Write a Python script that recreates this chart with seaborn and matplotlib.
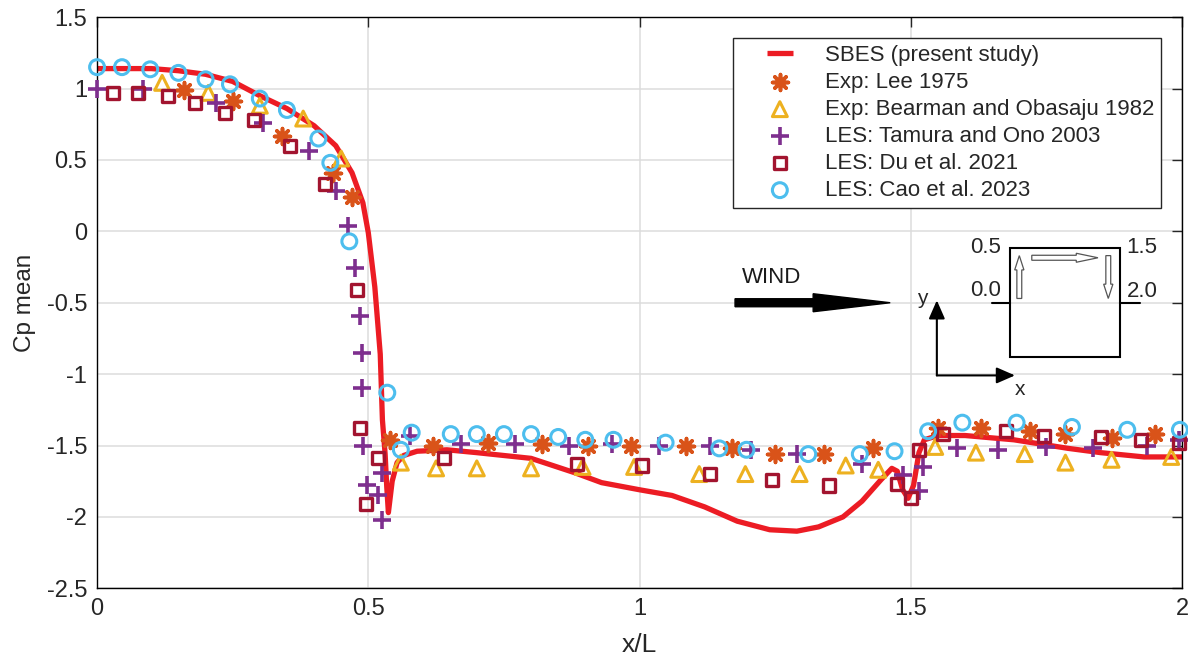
import matplotlib
matplotlib.use('Agg')
import matplotlib.pyplot as plt
from matplotlib.lines import Line2D
from matplotlib.patches import FancyArrow, Rectangle
import seaborn as sns

# SBES (present study)
sbes_x = [0.0, 0.05, 0.10, 0.15, 0.20, 0.25, 0.30, 0.35, 0.40, 0.44, 0.47, 0.49, 0.50,
          0.512, 0.522, 0.526, 0.531, 0.534, 0.537, 0.544, 0.553, 0.565, 0.59, 0.645, 0.70,
          0.80, 0.88, 0.93, 1.00, 1.06, 1.12, 1.18, 1.24, 1.29, 1.33, 1.375, 1.41,
          1.445, 1.465, 1.475, 1.485, 1.495, 1.505, 1.515, 1.525, 1.55, 1.60, 1.69, 1.79,
          1.85, 1.93, 2.00]
sbes_cp = [1.14, 1.14, 1.14, 1.125, 1.10, 1.05, 0.95, 0.86, 0.74, 0.60, 0.41, 0.20, -0.01,
           -0.39, -0.86, -1.32, -1.56, -1.79, -1.97, -1.75, -1.62, -1.57, -1.54, -1.53, -1.55,
           -1.59, -1.69, -1.76, -1.81, -1.85, -1.93, -2.03, -2.09, -2.10, -2.07, -2.00, -1.89,
           -1.74, -1.66, -1.68, -1.81, -1.87, -1.78, -1.55, -1.46, -1.43, -1.43, -1.46, -1.52,
           -1.55, -1.58, -1.58]

# Exp: Lee 1975
lee_x = [0.16, 0.25, 0.34, 0.435, 0.47, 0.54, 0.62, 0.72, 0.82, 0.905, 0.985, 1.085, 1.17,
         1.25, 1.34, 1.43, 1.55, 1.63, 1.72, 1.785, 1.87, 1.95]
lee_cp = [0.99, 0.91, 0.67, 0.41, 0.24, -1.46, -1.50, -1.48, -1.49, -1.50, -1.50, -1.50, -1.52,
          -1.56, -1.56, -1.52, -1.38, -1.38, -1.40, -1.42, -1.45, -1.42]

# Exp: Bearman and Obasaju 1982
bearman_x = [0.12, 0.205, 0.30, 0.38, 0.45, 0.56, 0.625, 0.70, 0.80, 0.895, 0.99, 1.11, 1.195,
             1.295, 1.38, 1.44, 1.545, 1.62, 1.71, 1.785, 1.87, 1.98]
bearman_cp = [1.04, 0.97, 0.88, 0.79, 0.51, -1.62, -1.66, -1.66, -1.66, -1.65, -1.65, -1.70, -1.70,
              -1.70, -1.64, -1.67, -1.51, -1.55, -1.56, -1.62, -1.60, -1.58]

# LES: Tamura and Ono 2003
tamura_x = [0.0, 0.085, 0.22, 0.305, 0.39, 0.44, 0.462, 0.476, 0.485, 0.488, 0.488, 0.49, 0.497,
            0.518, 0.525, 0.525, 0.577, 0.67, 0.77, 0.87, 0.95, 1.035, 1.13, 1.205, 1.29, 1.41,
            1.485, 1.515, 1.522, 1.585, 1.66, 1.75, 1.835, 1.935, 1.995]
tamura_cp = [1.00, 1.00, 0.90, 0.76, 0.56, 0.28, 0.04, -0.26, -0.59, -0.85, -1.10, -1.50, -1.78,
             -1.85, -1.69, -2.02, -1.43, -1.49, -1.49, -1.50, -1.49, -1.50, -1.50, -1.53, -1.56, -1.63,
             -1.71, -1.82, -1.65, -1.52, -1.53, -1.51, -1.52, -1.50, -1.46]

# LES: Du et al. 2021
du_x = [0.03, 0.075, 0.13, 0.18, 0.235, 0.29, 0.355, 0.42, 0.48, 0.485, 0.518, 0.495, 0.64,
        0.885, 1.005, 1.13, 1.245, 1.35, 1.475, 1.50, 1.515, 1.56, 1.675, 1.745, 1.85, 1.925, 1.995]
du_cp = [0.97, 0.97, 0.95, 0.90, 0.83, 0.78, 0.60, 0.33, -0.41, -1.38, -1.59, -1.91, -1.59,
         -1.63, -1.64, -1.70, -1.74, -1.78, -1.77, -1.87, -1.53, -1.42, -1.40, -1.43, -1.44, -1.46, -1.48]

# LES: Cao et al. 2023
cao_x = [0.0, 0.046, 0.098, 0.15, 0.20, 0.245, 0.30, 0.35, 0.408, 0.43, 0.465, 0.535, 0.56, 0.58,
         0.652, 0.70, 0.75, 0.80, 0.85, 0.90, 0.952, 1.048, 1.147, 1.197, 1.311, 1.406, 1.47,
         1.532, 1.595, 1.695, 1.797, 1.899, 1.996]
cao_cp = [1.15, 1.15, 1.135, 1.11, 1.065, 1.03, 0.93, 0.85, 0.65, 0.48, -0.07, -1.13, -1.53, -1.41,
          -1.42, -1.42, -1.42, -1.42, -1.44, -1.46, -1.46, -1.48, -1.52, -1.53, -1.56, -1.56, -1.54,
          -1.40, -1.34, -1.34, -1.37, -1.39, -1.39]

x_ticks = [0, 0.5, 1, 1.5, 2]
x_tick_labels = ['0', '0.5', '1', '1.5', '2']
y_ticks = [-2.5, -2, -1.5, -1, -0.5, 0, 0.5, 1, 1.5]
y_tick_labels = ['-2.5', '-2', '-1.5', '-1', '-0.5', '0', '0.5', '1', '1.5']

red = '#EC1C24'
orange = '#D95319'
yellow = '#EDB120'
purple = '#7E2F8E'
darkred = '#A2142F'
cyan = '#4DBEEE'

sns.set_style('white')
plt.rcParams['font.family'] = ['Liberation Sans', 'DejaVu Sans']

fig, ax = plt.subplots(figsize=(11.88, 6.61), dpi=100)
fig.subplots_adjust(left=0.0817, right=0.995, top=0.974, bottom=0.110)

sns.lineplot(x=sbes_x, y=sbes_cp, color=red, linewidth=3.8, sort=False, estimator=None,
             label='SBES (present study)', ax=ax, zorder=2)
sns.scatterplot(x=lee_x, y=lee_cp, marker=(8, 2, 0), s=130, color=orange, linewidth=2.6,
                label='Exp: Lee 1975', ax=ax, zorder=3, clip_on=False)
sns.scatterplot(x=bearman_x, y=bearman_cp, marker='^', s=115, color=yellow, facecolor='none',
                edgecolor=yellow, linewidth=2.2, label='Exp: Bearman and Obasaju 1982',
                ax=ax, zorder=3, clip_on=False)
sns.scatterplot(x=tamura_x, y=tamura_cp, marker='+', s=170, color=purple, linewidth=2.6,
                label='LES: Tamura and Ono 2003', ax=ax, zorder=3, clip_on=False)
sns.scatterplot(x=du_x, y=du_cp, marker='s', s=75, color=darkred, facecolor='none',
                edgecolor=darkred, linewidth=2.4, label='LES: Du et al. 2021',
                ax=ax, zorder=3, clip_on=False)
sns.scatterplot(x=cao_x, y=cao_cp, marker='o', s=115, color=cyan, facecolor='none',
                edgecolor=cyan, linewidth=2.2, label='LES: Cao et al. 2023',
                ax=ax, zorder=3, clip_on=False)

ax.set_xlim(0, 2)
ax.set_ylim(-2.5, 1.5)
ax.set_xticks(x_ticks)
ax.set_xticklabels(x_tick_labels)
ax.set_yticks(y_ticks)
ax.set_yticklabels(y_tick_labels)
ax.tick_params(direction='in', length=7, width=1, top=True, right=True,
               labelsize=17, pad=7, labelcolor='#262626')
ax.grid(True, color='#DCDCDC', linewidth=1.1)
ax.set_axisbelow(True)
for sp in ax.spines.values():
    sp.set_color('black')
    sp.set_linewidth(1.0)

ax.set_xlabel('x/L', fontsize=19, color='#262626', labelpad=9)
ax.set_ylabel('Cp mean', fontsize=17.5, color='#262626', labelpad=8)

# legend, red line shown as a short bar
handles, labels = ax.get_legend_handles_labels()
handles[0] = Line2D([], [], color=red, marker='_', markersize=19, markeredgewidth=3.8,
                    linestyle='none')
leg = ax.legend(handles, labels, loc='upper right', bbox_to_anchor=(0.981, 0.963),
                borderaxespad=0, fontsize=16, frameon=True, fancybox=False,
                edgecolor='#262626', framealpha=1, borderpad=0.3, labelspacing=0.27,
                handlelength=3.6, handletextpad=0.25)
leg.get_frame().set_linewidth(1.0)

# wind arrow
ax.add_patch(FancyArrow(1.176, -0.50, 0.286, 0, width=0.056, head_width=0.126,
                        head_length=0.142, length_includes_head=True, color='black'))
ax.text(1.188, -0.32, 'WIND', fontsize=16, ha='left', va='center', color='#1a1a1a')

# cylinder sketch
ax.add_patch(Rectangle((1.683, -0.883), 0.203, 0.764, fill=False, edgecolor='black', lw=1.5))
ax.plot([1.650, 1.683], [-0.504, -0.504], color='black', lw=1.5)
ax.plot([1.886, 1.923], [-0.504, -0.504], color='black', lw=1.5)
ax.text(1.667, -0.112, '0.5', ha='right', va='center', fontsize=16)
ax.text(1.667, -0.413, '0.0', ha='right', va='center', fontsize=16)
ax.text(1.898, -0.112, '1.5', ha='left', va='center', fontsize=16)
ax.text(1.898, -0.420, '2.0', ha='left', va='center', fontsize=16)

for dx, dy, x0, y0 in [(0, 0.30, 1.70, -0.47), (0, -0.30, 1.864, -0.17)]:
    ax.add_patch(FancyArrow(x0, y0, dx, dy, width=0.009, head_width=0.017, head_length=0.10,
                            length_includes_head=True, fc='white', ec='#555555', lw=0.9))
ax.add_patch(FancyArrow(1.723, -0.185, 0.122, 0, width=0.035, head_width=0.063,
                        head_length=0.04, length_includes_head=True, fc='white',
                        ec='#555555', lw=0.9))

# coordinate axes
arrow_kw = dict(arrowstyle='-|>,head_length=0.8,head_width=0.35', color='black', lw=1.5,
                shrinkA=0, shrinkB=0, mutation_scale=14)
ax.annotate('', xy=(1.548, -0.483), xytext=(1.548, -1.009), arrowprops=arrow_kw)
ax.annotate('', xy=(1.692, -1.009), xytext=(1.548, -1.009), arrowprops=arrow_kw)
ax.text(1.521, -0.47, 'y', ha='center', va='center', fontsize=15)
ax.text(1.701, -1.11, 'x', ha='center', va='center', fontsize=15)

plt.savefig('out.png', dpi=100)
